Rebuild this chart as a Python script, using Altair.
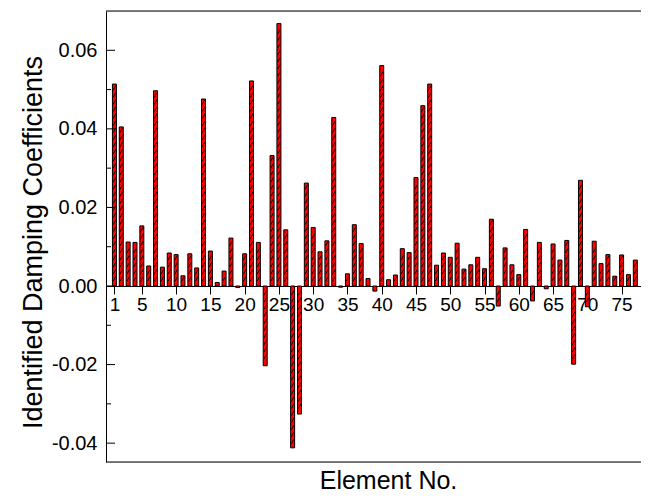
import altair as alt
import pandas as pd

elements = list(range(1, 78))
values = [
    0.0514, 0.0405, 0.0112, 0.0111, 0.0153, 0.0051, 0.0497, 0.0048, 0.0084, 0.0080,
    0.0026, 0.0082, 0.0046, 0.0476, 0.0089, 0.0009, 0.0038, 0.0122, -0.0004, 0.0082,
    0.0522, 0.0111, -0.0203, 0.0332, 0.0668, 0.0143, -0.0412, -0.0326, 0.0262, 0.0149,
    0.0087, 0.0115, 0.0429, -0.0003, 0.0031, 0.0156, 0.0108, 0.0019, -0.0013, 0.0561,
    0.0016, 0.0028, 0.0095, 0.0085, 0.0276, 0.0459, 0.0514, 0.0053, 0.0084, 0.0073,
    0.0109, 0.0043, 0.0054, 0.0073, 0.0044, 0.0170, -0.0051, 0.0097, 0.0054, 0.0029,
    0.0144, -0.0038, 0.0111, -0.0007, 0.0107, 0.0066, 0.0116, -0.0199, 0.0269, -0.0053,
    0.0114, 0.0057, 0.0080, 0.0025, 0.0079, 0.0029, 0.0066,
]
x_ticks = [1, 5, 10, 15, 20, 25, 30, 35, 40, 45, 50, 55, 60, 65, 70, 75]
y_ticks = [-0.04, -0.02, 0.0, 0.02, 0.04, 0.06]
y_minor = [-0.03, -0.01, 0.01, 0.03, 0.05]

W, H = 535, 451
FONT = "Liberation Sans"

df = pd.DataFrame({"Element": elements, "Value": values})

# hatch marks derived from the bar values
step = 0.0018
hx, hy = [], []
for e, v in zip(elements, values):
    k = 1
    while k * step < abs(v) - step * 0.35:
        hx.append(e)
        hy.append(k * step if v > 0 else -k * step)
        k += 1
hatch = pd.DataFrame({"Element": hx, "Value": hy})

xscale = alt.Scale(domain=[0.5, 77.1], nice=False, zero=False)
yscale = alt.Scale(domain=[-0.0448, 0.07], nice=False)

xaxis = alt.Axis(
    values=x_ticks, offset=-176, tickSize=8, tickColor="black", tickWidth=1,
    domainColor="black", domainWidth=1, grid=False,
    labelFontSize=19, labelFont=FONT, labelColor="black", labelPadding=1,
    labelFlush=False, labelOverlap=False,
    title="Element No.", titleFontSize=25, titleFont=FONT, titleFontWeight="normal",
    titleColor="black", titleX=282, titleY=202, titleBaseline="alphabetic")
yaxis = alt.Axis(
    values=y_ticks, ticks=False, labelPadding=9, domainColor="black", domainWidth=1,
    grid=False, labelFontSize=20, labelFont=FONT, labelColor="black", labelOverlap=False,
    labelExpr="(datum.value < 0 ? '-' : '') + format(abs(datum.value), '.2f')",
    title="Identified Damping Coefficients", titleFontSize=27, titleFont=FONT,
    titleFontWeight="normal", titleColor="black", titlePadding=4, titleY=231)

bars = alt.Chart(df).mark_bar(size=4, fill="#ff0000", stroke="black", strokeWidth=1).encode(
    x=alt.X("Element:Q", scale=xscale, axis=xaxis),
    y=alt.Y("Value:Q", scale=yscale, axis=yaxis),
)

hatch_layer = alt.Chart(hatch).mark_point(
    shape="M-0.5,0.9L0.5,-0.9", size=25, filled=False, stroke="black", strokeWidth=0.9, opacity=1
).encode(
    x=alt.X("Element:Q", scale=xscale, axis=xaxis),
    y=alt.Y("Value:Q", scale=yscale, axis=yaxis),
)

major = alt.Chart(pd.DataFrame({"Value": y_ticks})).mark_rule(color="black", strokeWidth=1).encode(
    y=alt.Y("Value:Q", scale=yscale, axis=yaxis), x=alt.value(0), x2=alt.value(9))
minor = alt.Chart(pd.DataFrame({"Value": y_minor})).mark_rule(color="black", strokeWidth=1).encode(
    y=alt.Y("Value:Q", scale=yscale, axis=yaxis), x=alt.value(0), x2=alt.value(5))

one = pd.DataFrame({"a": [0]})
top = alt.Chart(one).mark_rule(color="black", strokeWidth=1).encode(
    x=alt.value(0), x2=alt.value(W), y=alt.value(0))
bottom = alt.Chart(one).mark_rule(color="black", strokeWidth=1).encode(
    x=alt.value(0), x2=alt.value(W), y=alt.value(H))

chart = alt.layer(bars, hatch_layer, major, minor, top, bottom).properties(
    width=W, height=H,
    autosize=alt.AutoSizeParams(type="none"),
    padding={"left": 98, "top": 3, "right": 0, "bottom": 33},
).configure_view(stroke=None).configure_axis(labelOverlap=False).configure(background="white")

chart.save("out.html", embed_options={"renderer": "svg", "actions": False})
